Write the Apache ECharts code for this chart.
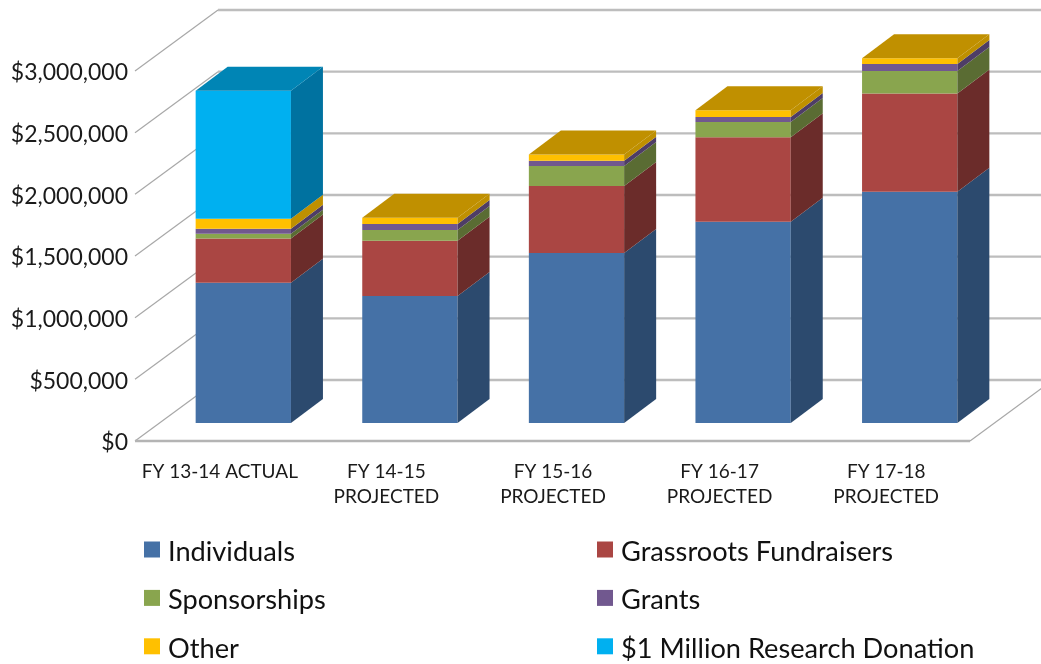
<!DOCTYPE html>
<html>
<head>
<meta charset="utf-8">
<script src="https://cdn.jsdelivr.net/npm/echarts@6/dist/echarts.min.js"></script>
<style>
html,body{margin:0;padding:0;background:#fff;overflow:hidden}
#main{width:1041px;height:664px;filter:blur(0.45px)}
</style>
</head>
<body>
<div id="main"></div>
<script>
const categories = ['FY 13-14 ACTUAL', 'FY 14-15\nPROJECTED', 'FY 15-16\nPROJECTED', 'FY 16-17\nPROJECTED', 'FY 17-18\nPROJECTED'];
const individuals = [1137000, 1029000, 1378000, 1631000, 1874000];
const grassroots  = [358000, 448000, 543000, 686000, 797000];
const sponsorships = [40000, 87000, 162000, 124000, 183000];
const grants = [39000, 49000, 43000, 41000, 57000];
const other = [83000, 51000, 52000, 54000, 46000];
const research = [1036000, 0, 0, 0, 0];
const gridTicks = [0, 500000, 1000000, 1500000, 2000000, 2500000, 3000000];

const seriesDefs = [
  {name: 'Individuals', values: individuals, front: '#4571A6', side: '#2C4A6E', top: '#35577F'},
  {name: 'Grassroots Fundraisers', values: grassroots, front: '#AA4643', side: '#6B2C2A', top: '#7F3432'},
  {name: 'Sponsorships', values: sponsorships, front: '#89A54E', side: '#5A6C33', top: '#667B3A'},
  {name: 'Grants', values: grants, front: '#71588F', side: '#4E3D66', top: '#55426B'},
  {name: 'Other', values: other, front: '#FFC000', side: '#BF9000', top: '#C09000'},
  {name: '$1 Million Research Donation', values: research, front: '#00B0F0', side: '#0072A0', top: '#0085B5'}
];

// 3D projection constants
const WALL_DX = 83, WALL_DY = -61;
const BAR_DX = 32, BAR_DY = -24;
const BAR_OFF_X = 25, BAR_OFF_Y = -18;
const BAR_RATIO = 0.572;

const cumulative = categories.map(() => 0);
const barSeries = seriesDefs.map((def, s) => {
  const data = def.values.map((v, i) => {
    const base = cumulative[i];
    cumulative[i] += v;
    return [i, base, base + v];
  });
  return {
    name: def.name,
    type: 'custom',
    z: 5,
    silent: true,
    itemStyle: {color: def.front},
    encode: {x: 0, y: 2},
    data: data,
    renderItem: function (params, api) {
      const i = api.value(0), b = api.value(1), t = api.value(2);
      if (t <= b) return {type: 'group', children: []};
      const p0 = api.coord([i, b]), p1 = api.coord([i, t]);
      const w = api.size([1, 0])[0] * BAR_RATIO;
      const xl = p0[0] + BAR_OFF_X - w / 2, xr = xl + w;
      const y0 = p0[1] + BAR_OFF_Y, y1 = p1[1] + BAR_OFF_Y;
      const kids = [
        {type: 'polygon', shape: {points: [[xl, y0], [xr, y0], [xr, y1], [xl, y1]]}, style: {fill: def.front}},
        {type: 'polygon', shape: {points: [[xr, y0], [xr + BAR_DX, y0 + BAR_DY], [xr + BAR_DX, y1 + BAR_DY], [xr, y1]]}, style: {fill: def.side}}
      ];
      const higher = seriesDefs.slice(s + 1).some(d => d.values[i] > 0);
      if (!higher) {
        kids.push({type: 'polygon', shape: {points: [[xl, y1], [xr, y1], [xr + BAR_DX, y1 + BAR_DY], [xl + BAR_DX, y1 + BAR_DY]]}, style: {fill: def.top}});
      }
      return {type: 'group', children: kids};
    }
  };
});

const wallSeries = {
  name: 'walls',
  type: 'custom',
  z: 1,
  silent: true,
  encode: {y: 0},
  data: gridTicks.map(v => [v]),
  renderItem: function (params, api) {
    const v = api.value(0);
    const cs = params.coordSys;
    const y = api.coord([0, v])[1];
    const x0 = cs.x, xEnd = cs.x + cs.width + 2;
    const kids = [
      {type: 'line', shape: {x1: x0, y1: y, x2: x0 + WALL_DX, y2: y + WALL_DY}, style: {stroke: '#a8a8a8', lineWidth: 1.2}},
      {type: 'line', shape: {x1: x0 + WALL_DX, y1: y + WALL_DY, x2: xEnd + WALL_DX, y2: y + WALL_DY}, style: {stroke: '#bdbdbd', lineWidth: 2.4}}
    ];
    if (v === 0) {
      kids.push({type: 'line', shape: {x1: x0, y1: y, x2: xEnd, y2: y}, style: {stroke: '#b4b4b4', lineWidth: 2.4}});
      kids.push({type: 'line', shape: {x1: xEnd, y1: y, x2: xEnd + WALL_DX, y2: y + WALL_DY}, style: {stroke: '#a8a8a8', lineWidth: 1.2}});
    }
    return {type: 'group', children: kids};
  }
};

const legendBase = {
  orient: 'vertical', icon: 'rect', itemWidth: 16, itemHeight: 16, itemGap: 21.4, top: 538.5, height: 125, padding: 0,
  selectedMode: false,
  formatter: name => '{a|' + name + '}',
  textStyle: {rich: {a: {fontFamily: 'Lato', fontSize: 27.2, color: '#111', padding: [5, 0, 0, 3]}}}
};

const chart = echarts.init(document.getElementById('main'), null, {renderer: 'canvas'});
chart.setOption({
  animation: false,
  backgroundColor: '#fff',
  grid: {left: 135, top: 71, width: 833, height: 370},
  xAxis: {
    type: 'category', data: categories,
    axisLine: {show: false}, axisTick: {show: false},
    axisLabel: {fontFamily: 'Lato', fontSize: 19, color: '#1a1a1a', margin: 18, lineHeight: 25, interval: 0, padding: [0, 0, 0, 3]}
  },
  yAxis: {
    type: 'value', min: 0, max: 3000000, interval: 500000,
    axisLine: {show: false}, axisTick: {show: false}, splitLine: {show: false},
    axisLabel: {margin: 7,
      formatter: v => '{a|$' + v.toLocaleString('en-US') + '}',
      rich: {a: {fontFamily: 'Lato', fontSize: 23, color: '#1a1a1a', padding: [4, 0, 0, 0]}}}
  },
  legend: [
    Object.assign({}, legendBase, {left: 144, data: ['Individuals', 'Sponsorships', 'Other']}),
    Object.assign({}, legendBase, {left: 597, data: ['Grassroots Fundraisers', 'Grants', '$1 Million Research Donation']})
  ],
  series: [wallSeries].concat(barSeries)
});
</script>
</body>
</html>
